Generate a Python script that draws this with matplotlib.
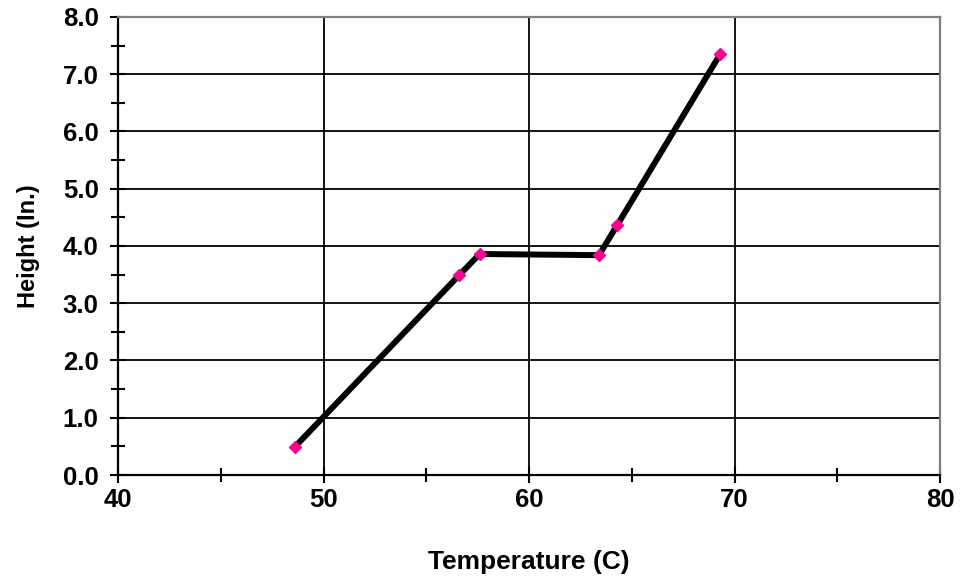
import matplotlib
matplotlib.use("Agg")
import matplotlib.pyplot as plt
from matplotlib.ticker import MultipleLocator, FormatStrFormatter

# readings
temperature = [48.6, 56.6, 57.6, 63.4, 64.3, 69.3]
height = [0.49, 3.49, 3.86, 3.84, 4.37, 7.35]

plt.rcParams['font.family'] = ['Liberation Sans', 'DejaVu Sans']
plt.rcParams['font.weight'] = 'bold'

fig = plt.figure(figsize=(9.61, 5.78), dpi=100)
ax = fig.add_axes([0.1228, 0.1782, 0.8554, 0.7924])

ax.set_xlim(40, 80)
ax.set_ylim(0, 8)
ax.xaxis.set_major_locator(MultipleLocator(10))
ax.xaxis.set_minor_locator(MultipleLocator(5))
ax.yaxis.set_major_locator(MultipleLocator(1))
ax.yaxis.set_minor_locator(MultipleLocator(0.5))
ax.yaxis.set_major_formatter(FormatStrFormatter('%.1f'))
ax.grid(True, which='major', color='black', linewidth=1.3)
ax.set_axisbelow(True)
ax.tick_params(which='both', direction='inout', color='black', width=1.5)
ax.tick_params(which='major', length=12, labelsize=18.5)
ax.tick_params(axis='x', which='major', pad=3)
ax.tick_params(axis='y', which='major', pad=8)
ax.tick_params(which='minor', length=10)
for side in ['left', 'bottom']:
    ax.spines[side].set_linewidth(1.6)
for side in ['top', 'right']:
    ax.spines[side].set_color('#808080')
    ax.spines[side].set_linewidth(1.6)

ax.plot(temperature, height, color='black', linewidth=4.3,
        solid_joinstyle='round', solid_capstyle='round', zorder=3)
ax.plot(temperature, height, linestyle='none', marker='D', markersize=6,
        color='#FF0090', markeredgecolor='#FF0090', zorder=4)

ax.set_xlabel('Temperature (C)', fontsize=19, fontweight='bold', labelpad=28)
ax.set_ylabel('Height (In.)', fontsize=17, fontweight='bold', labelpad=16)

fig.savefig('out.png', dpi=100)
